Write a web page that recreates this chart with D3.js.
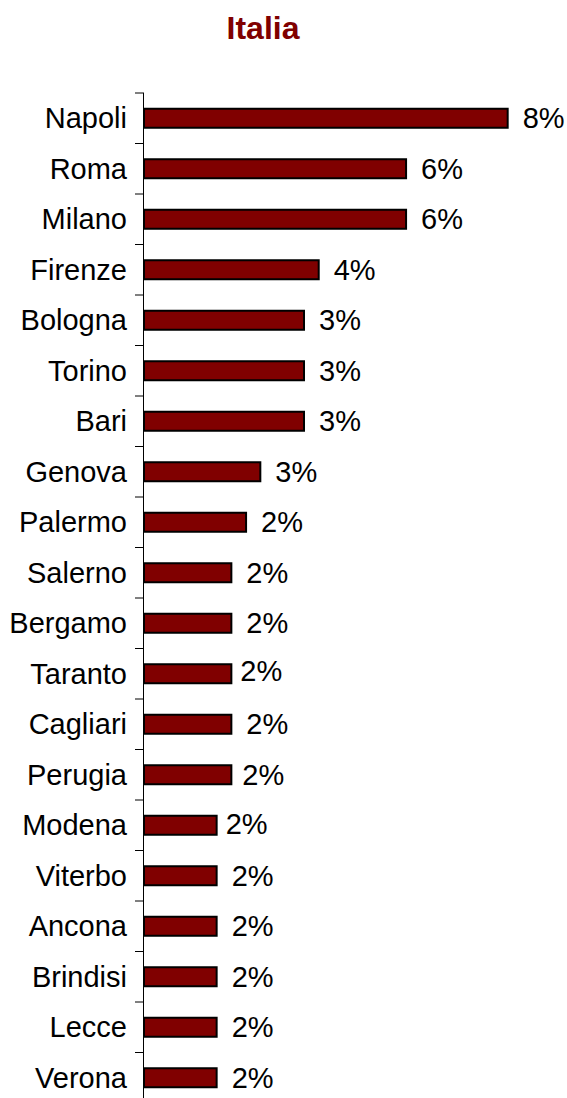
<!DOCTYPE html>
<html>
<head>
<meta charset="utf-8">
<script src="https://cdn.jsdelivr.net/npm/d3@7"></script>
<style>
  body { margin: 0; background: #ffffff; }
  svg { display: block; }
</style>
</head>
<body>
<svg id="chart" width="567" height="1098"></svg>
<script>
// Cities, top to bottom
const categories = [
  "Napoli", "Roma", "Milano", "Firenze", "Bologna", "Torino", "Bari",
  "Genova", "Palermo", "Salerno", "Bergamo", "Taranto", "Cagliari",
  "Perugia", "Modena", "Viterbo", "Ancona", "Brindisi", "Lecce", "Verona"
];
// Share of the total, in percent
const shares = [
  7.91, 5.70, 5.70, 3.80, 3.48, 3.48, 3.48,
  2.53, 2.22, 1.90, 1.90, 1.90, 1.90,
  1.90, 1.58, 1.58, 1.58, 1.58, 1.58, 1.58
];
const titleText = "Italia";

const data = categories.map((c, i) => ({ city: c, value: shares[i] }));

const svg = d3.select("#chart");
const font = "'Liberation Sans', Arial, sans-serif";
const barColor = "#800000";
const labelSize = 29;

const axisX = 144;
const x = d3.scaleLinear().domain([0, 8.7]).range([axisX, 544]);
const row = d3.scaleBand().domain(categories).range([93, 1103]).padding(0);
const barH = 19;

// Title
svg.append("text")
  .attr("x", 263)
  .attr("y", 39)
  .attr("text-anchor", "middle")
  .attr("font-family", font)
  .attr("font-weight", "bold")
  .attr("font-size", 32)
  .attr("fill", barColor)
  .text(titleText);

// Vertical category axis with ticks between rows
const axis = svg.append("g");
axis.append("line")
  .attr("x1", axisX - 0.5).attr("x2", axisX - 0.5)
  .attr("y1", row.range()[0]).attr("y2", row.range()[1])
  .attr("stroke", "#000").attr("stroke-width", 1);
axis.selectAll("line.tick")
  .data(categories.concat([null]))
  .join("line")
  .attr("class", "tick")
  .attr("x1", axisX - 9).attr("x2", axisX)
  .attr("y1", (d, i) => row.range()[0] + i * row.step())
  .attr("y2", (d, i) => row.range()[0] + i * row.step())
  .attr("stroke", "#000").attr("stroke-width", 1);

// Category labels
svg.selectAll("text.cat")
  .data(data)
  .join("text")
  .attr("class", "cat")
  .attr("x", 127)
  .attr("y", d => row(d.city) + row.bandwidth() / 2)
  .attr("dy", "0.35em")
  .attr("text-anchor", "end")
  .attr("font-family", font)
  .attr("font-size", labelSize)
  .attr("fill", "#000")
  .text(d => d.city);

// Bars
svg.selectAll("rect.bar")
  .data(data)
  .join("rect")
  .attr("class", "bar")
  .attr("x", x(0))
  .attr("y", d => row(d.city) + row.bandwidth() / 2 - barH / 2)
  .attr("width", d => x(d.value) - x(0))
  .attr("height", barH)
  .attr("fill", barColor)
  .attr("stroke", "#000")
  .attr("stroke-width", 2);

// Value labels, a few placed slightly off the default spot
const nudge = { Taranto: [-6, -3], Perugia: [-4, 0], Modena: [-6, -1] };
const fmt = v => Math.round(v) + "%";
svg.selectAll("text.val")
  .data(data)
  .join("text")
  .attr("class", "val")
  .attr("x", d => x(d.value) + 15 + (nudge[d.city] ? nudge[d.city][0] : 0))
  .attr("y", d => row(d.city) + row.bandwidth() / 2 + (nudge[d.city] ? nudge[d.city][1] : 0))
  .attr("dy", "0.35em")
  .attr("text-anchor", "start")
  .attr("font-family", font)
  .attr("font-size", labelSize)
  .attr("fill", "#000")
  .text(d => fmt(d.value));
</script>
</body>
</html>
